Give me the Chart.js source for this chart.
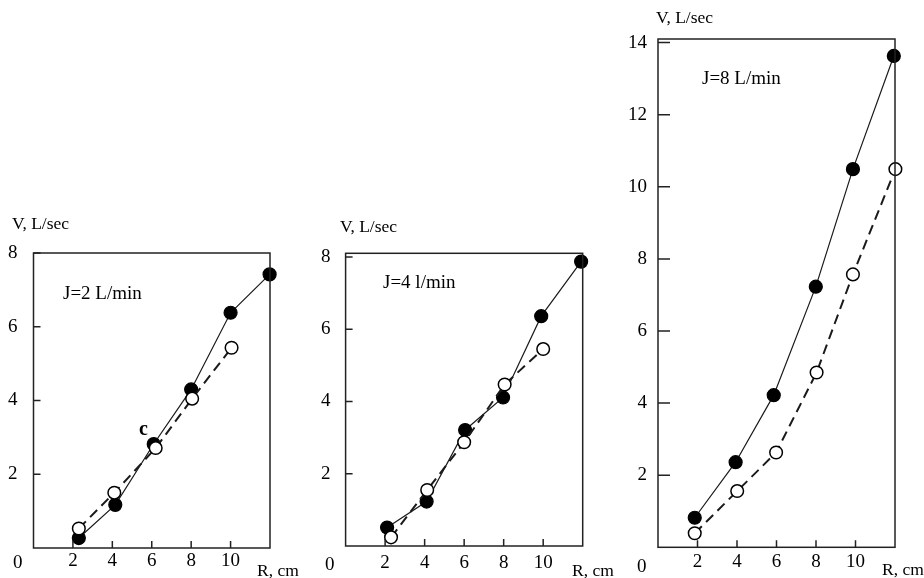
<!DOCTYPE html>
<html>
<head>
<meta charset="utf-8">
<script src="https://cdn.jsdelivr.net/npm/chart.js@4.4.0/dist/chart.umd.min.js"></script>
<style>
  body { margin:0; background:#fff; width:924px; height:578px; overflow:hidden; position:relative;
         font-family:"Liberation Serif", "Times New Roman", serif; color:#000; }
  canvas { position:absolute; left:0; top:0; }
  .t { position:absolute; white-space:nowrap; line-height:1; transform:translateY(-50%); }
</style>
</head>
<body>
<canvas id="c1" width="924" height="578"></canvas>
<canvas id="c2" width="924" height="578"></canvas>
<canvas id="c3" width="924" height="578"></canvas>

<div class="t" style="left:12px;top:224px;font-size:17.5px">V, L/sec</div>
<div class="t" style="left:63px;top:292px;font-size:19px">J=2 L/min</div>
<div class="t" style="left:139px;top:428px;font-size:20px;font-weight:bold">c</div>
<div class="t" style="left:13px;top:561px;font-size:19px">0</div>
<div class="t" style="left:257px;top:571px;font-size:17.5px">R, cm</div>

<div class="t" style="left:340px;top:227px;font-size:17.5px">V, L/sec</div>
<div class="t" style="left:383px;top:281px;font-size:19px">J=4 l/min</div>
<div class="t" style="left:325px;top:563px;font-size:19px">0</div>
<div class="t" style="left:572px;top:571px;font-size:17.5px">R, cm</div>

<div class="t" style="left:656px;top:18px;font-size:17.5px">V, L/sec</div>
<div class="t" style="left:702px;top:77px;font-size:19px">J=8 L/min</div>
<div class="t" style="left:637px;top:565px;font-size:19px">0</div>
<div class="t" style="left:882px;top:570px;font-size:17.5px">R, cm</div>

<script>
// ---------- data ----------
const xTicks = [0, 2, 4, 6, 8, 10, 12];
const yTicksLow = [0, 2, 4, 6, 8];
const yTicksHigh = [0, 2, 4, 6, 8, 10, 12, 14];

// J = 2 L/min
const r2Solid = [2.3, 4.15, 6.1, 8.0, 10.0, 11.98];
const v2Solid = [0.27, 1.17, 2.82, 4.3, 6.38, 7.42];
const r2Open  = [2.3, 4.1, 6.2, 8.05, 10.05];
const v2Open  = [0.53, 1.5, 2.71, 4.05, 5.43];

// J = 4 l/min
const r4Solid = [2.1, 4.1, 6.05, 7.97, 9.9, 11.92];
const v4Solid = [0.51, 1.23, 3.21, 4.11, 6.36, 7.87];
const r4Open  = [2.3, 4.13, 6.0, 8.05, 10.0];
const v4Open  = [0.24, 1.55, 2.87, 4.47, 5.45];

// J = 8 L/min
const r8Solid = [1.86, 3.93, 5.86, 7.99, 9.87, 11.94];
const v8Solid = [0.82, 2.36, 4.22, 7.23, 10.49, 13.63];
const r8Open  = [1.86, 4.01, 5.98, 8.03, 9.87, 12.02];
const v8Open  = [0.39, 1.56, 2.63, 4.85, 7.57, 10.49];

// ---------- helpers ----------
const W = 924, H = 578, YW = 40, XH = 30;
const pts = (xs, ys)=> xs.map((x, i)=> ({x, y: ys[i]}));
const hideEnds = (v)=> (v === 0 || v === 12 ? '' : v);

// box + inward tick marks
const frame = {
  id: 'frame',
  afterDatasetsDraw(chart, args, o) {
    const {ctx, chartArea: a, scales: {x, y}} = chart;
    ctx.save();
    ctx.strokeStyle = '#222';
    ctx.lineWidth = 1.5;
    ctx.strokeRect(a.left, a.top, a.right - a.left, a.bottom - a.top);
    ctx.beginPath();
    xTicks.slice(1, -1).forEach(v=>{
      const px = x.getPixelForValue(v);
      ctx.moveTo(px, a.bottom); ctx.lineTo(px, a.bottom - o.len);
    });
    o.yTicks.slice(1).forEach(v=>{
      const py = y.getPixelForValue(v);
      ctx.moveTo(a.left, py); ctx.lineTo(a.left + o.ylen, py);
    });
    ctx.stroke();
    ctx.restore();
  }
};

function panel(id, p) {
  const [L, T, R, B] = p.box;
  new Chart(document.getElementById(id), {
    type: 'scatter',
    data: {datasets: [
      {data: p.solid, showLine: true, borderColor: '#1a1a1a', borderWidth: 1.2,
       pointRadius: 6.5, pointBackgroundColor: '#000', pointBorderColor: '#000', clip: false, order: 2},
      {data: p.open, showLine: true, borderColor: '#1a1a1a', borderWidth: 2, borderDash: [10, 6],
       pointRadius: 6.3, pointBackgroundColor: '#fff', pointBorderColor: '#000', pointBorderWidth: 1.5,
       clip: false, order: 1}
    ]},
    options: {
      responsive: false, animation: false, events: [],
      layout: {padding: {left: L - YW, top: T, right: W - R, bottom: H - B - XH}},
      plugins: {legend: {display: false}, tooltip: {enabled: false}, frame: {len: 7, ylen: p.ylen, yTicks: p.yTicks}},
      scales: {
        x: {type: 'linear', min: 0, max: 12,
            afterBuildTicks: s=> { s.ticks = xTicks.map(v=> ({value: v})); },
            afterFit: s=> { s.height = XH; },
            grid: {display: false, drawTicks: false}, border: {display: false},
            ticks: {autoSkip: false, maxRotation: 0, padding: p.xpad, color: '#000',
                    font: {family: 'Liberation Serif', size: 19}, callback: hideEnds}},
        y: {type: 'linear', min: 0, max: p.yMax,
            afterBuildTicks: s=> { s.ticks = p.yTicks.map(v=> ({value: v})); },
            afterFit: s=> { s.width = YW; },
            grid: {display: false, drawTicks: false}, border: {display: false},
            ticks: {autoSkip: false, padding: p.ypad, color: '#000',
                    font: {family: 'Liberation Serif', size: 19}, callback: (v)=> (v === 0 ? '' : v)}}
      }
    },
    plugins: [frame]
  });
}

panel('c1', {box: [33.5, 253, 270, 548], yMax: 8, yTicks: yTicksLow, ypad: 16, xpad: 2, ylen: 7,
             solid: pts(r2Solid, v2Solid), open: pts(r2Open, v2Open)});
panel('c2', {box: [345.6, 253.3, 582.7, 546], yMax: 8.1, yTicks: yTicksLow, ypad: 15, xpad: 6, ylen: 7,
             solid: pts(r4Solid, v4Solid), open: pts(r4Open, v4Open)});
panel('c3', {box: [658, 39, 895, 547.3], yMax: 14.1, yTicks: yTicksHigh, ypad: 11, xpad: 3.5, ylen: 12,
             solid: pts(r8Solid, v8Solid), open: pts(r8Open, v8Open)});
</script>
</body>
</html>
